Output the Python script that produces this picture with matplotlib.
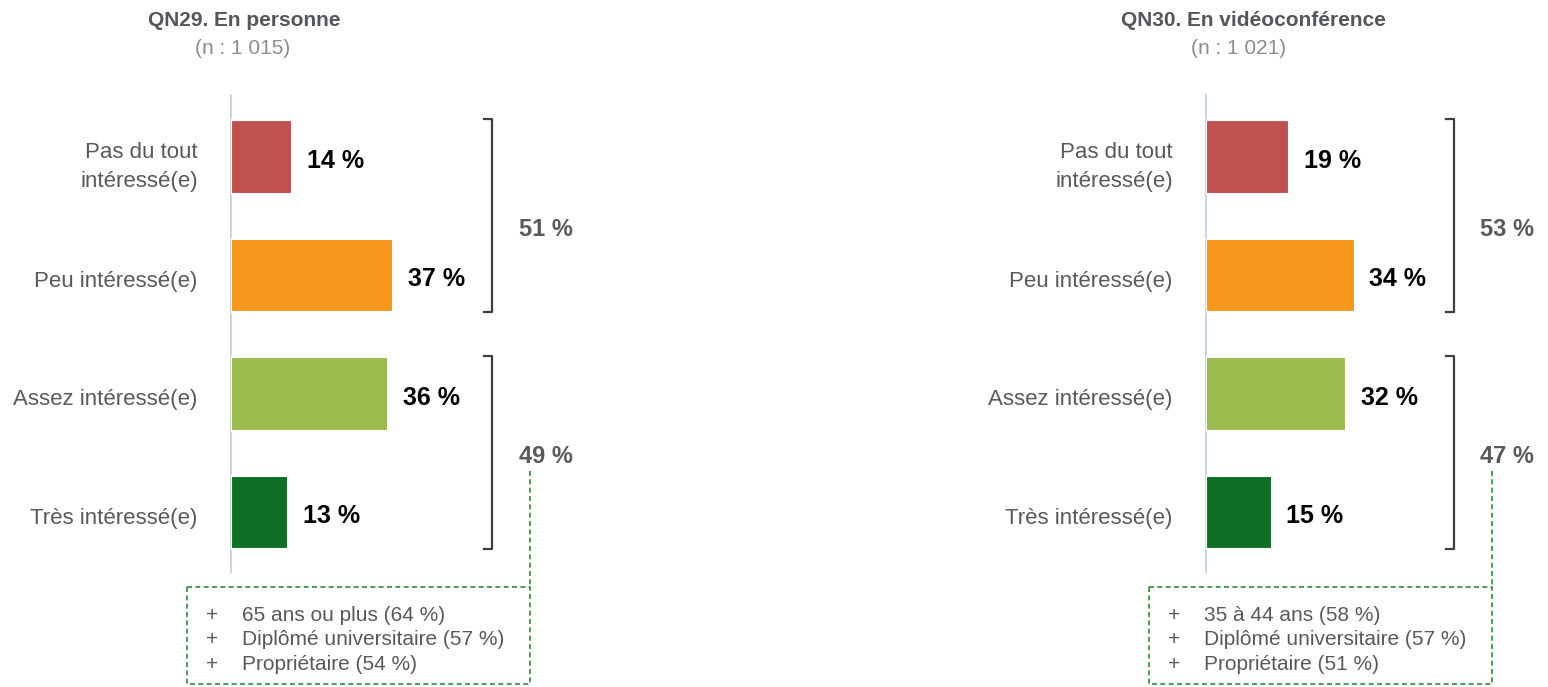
import matplotlib.pyplot as plt
from matplotlib.patches import Rectangle
from matplotlib.transforms import ScaledTranslation

plt.rcParams['font.family'] = ['Liberation Sans', 'DejaVu Sans']

categories = ['Pas du tout\nintéressé(e)', 'Peu intéressé(e)', 'Assez intéressé(e)', 'Très intéressé(e)']
couleurs = ['#C0504D', '#F7971C', '#9BBB4F', '#0E7025']

titres = ['QN29. En personne', 'QN30. En vidéoconférence']
sous_titres = ['(n : 1 015)', '(n : 1 021)']
valeurs_personne = [14, 37, 36, 13]
valeurs_video = [19, 34, 32, 15]
nets_personne = [51, 49]
nets_video = [53, 47]
profil_personne = ['65 ans ou plus (64 %)', 'Diplômé universitaire (57 %)', 'Propriétaire (54 %)']
profil_video = ['35 à 44 ans (58 %)', 'Diplômé universitaire (57 %)', 'Propriétaire (51 %)']

W, H = 1548, 687
fig = plt.figure(figsize=(W / 100, H / 100), dpi=100)

panneaux = [
    (titres[0], sous_titres[0], valeurs_personne, nets_personne, profil_personne, 231, 244, 243),
    (titres[1], sous_titres[1], valeurs_video, nets_video, profil_video, 1206, 1253, 1239),
]

px_par_pct = 4.37
gris = '#595959'
vert = '#2E8B3E'

for titre, sous_titre, valeurs, nets, profil, x0, xt, xs in panneaux:
    ax = fig.add_axes([x0 / W, 1 - 571.75 / H, 400 / W, (571.75 - 95.4) / H])
    ax.barh(range(len(valeurs)), valeurs, height=0.62, color=couleurs,
            edgecolor='white', linewidth=1.5, zorder=3)
    ax.set_xlim(0, 400 / px_par_pct)
    ax.set_ylim(3.5, -0.52)
    ax.set_yticks(range(len(categories)), categories)
    ax.tick_params(axis='y', length=0, pad=24, labelsize=16, labelcolor=gris)
    decal = ScaledTranslation(0, -0.03, fig.dpi_scale_trans)
    for t in ax.get_yticklabels():
        t.set_linespacing(1.5)
        t.set_transform(t.get_transform() + decal)
    ax.set_xticks([])
    for s in ['top', 'right', 'bottom']:
        ax.spines[s].set_visible(False)
    ax.spines['left'].set_color('#C9D5EA')
    ax.spines['left'].set_linewidth(1.5)

    for i, v in enumerate(valeurs):
        ax.text(v + 3.4, i + 0.03, f'{v} %', va='center', ha='left', fontsize=18,
                fontweight='bold', color='black')

    # accolades
    bx = max(valeurs) + 22.8
    groupes = [(0, 1), (2, 3)]
    pos_net = [0.61, 2.53]
    for (g0, g1), n, yp in zip(groupes, nets, pos_net):
        haut = g0 - 0.32
        bas = g1 + 0.31
        ax.plot([bx - 1.8, bx, bx, bx - 1.8], [haut, haut, bas, bas],
                color='#3F3F3F', lw=1.6, clip_on=False)
        ax.text(bx + 6, yp, f'{n} %', va='center', ha='left', fontsize=17,
                fontweight='bold', color=gris)

    # encadré profil
    cx = bx + 8.7
    ax.plot([cx, cx], [2.65, 3.63], color=vert, lw=1.2, ls=(0, (3, 2)), clip_on=False)
    gauche = cx - 78.5
    ax.add_patch(Rectangle((gauche, 3.63), 78.5, 0.82, fill=False, edgecolor=vert,
                           lw=1.2, ls=(0, (3, 2)), clip_on=False))
    for k, ligne in enumerate(profil):
        yy = 3.865 + k * 0.207
        ax.text(gauche + 5.7, yy, '+', ha='center', va='center', fontsize=15,
                color=gris, clip_on=False)
        ax.text(gauche + 12.6, yy, ligne, ha='left', va='center', fontsize=15,
                color=gris, clip_on=False)

    fig.text(xt / W, 1 - 20 / H, titre, ha='center', va='center', fontsize=15,
             fontweight='bold', color='#53565A')
    fig.text(xs / W, 1 - 48 / H, sous_titre, ha='center', va='center', fontsize=15,
             color='#8C8C8C')

fig.savefig('out.png', dpi=100)
